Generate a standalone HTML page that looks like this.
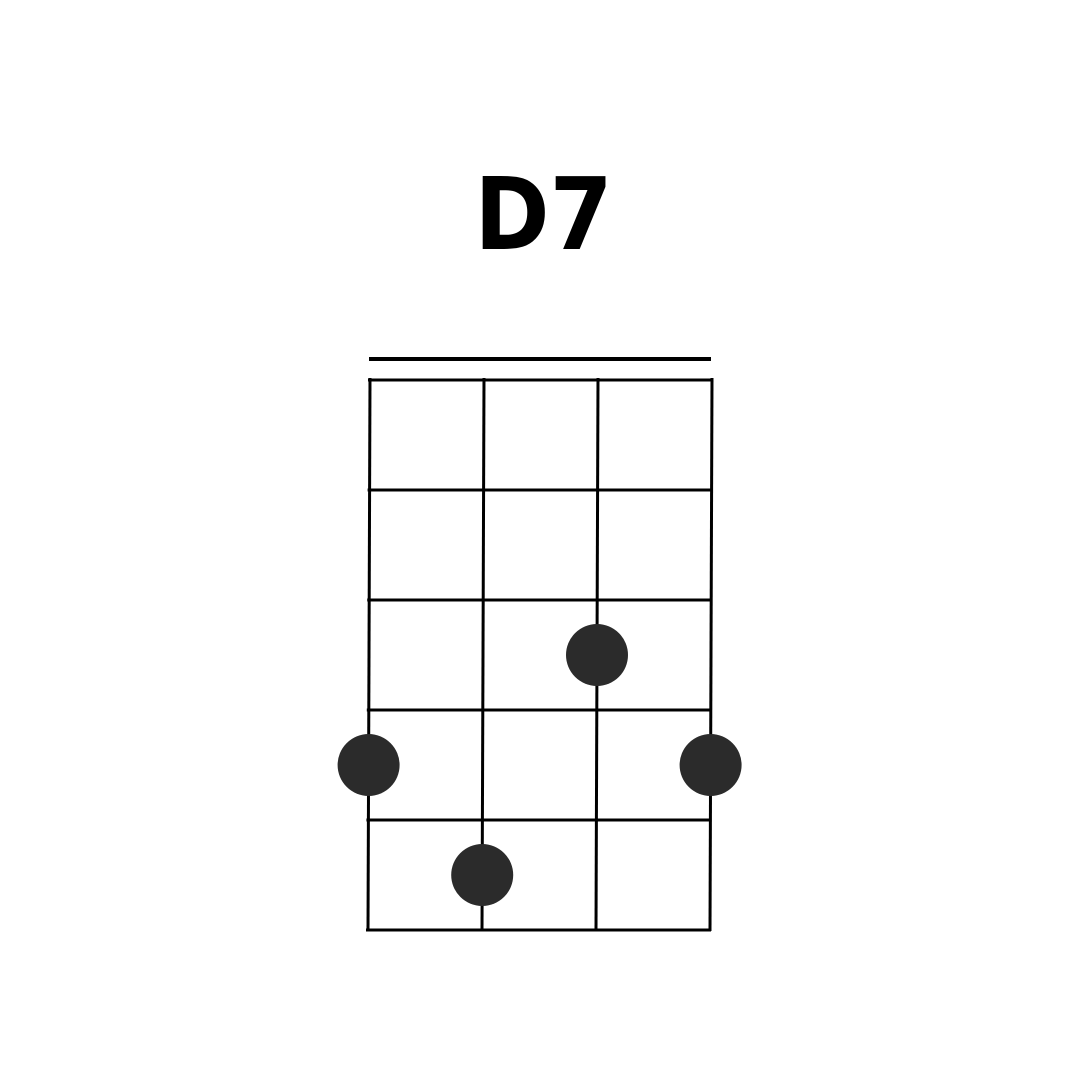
<!DOCTYPE html>
<html><head><meta charset="utf-8"><style>
html,body{margin:0;padding:0;background:#fff;width:1080px;height:1080px;overflow:hidden}
svg{display:block}
</style></head><body>
<svg id="chart" width="1080" height="1080" viewBox="0 0 1080 1080">
<rect width="1080" height="1080" fill="#fff"/>
<text x="0" y="249" transform="translate(543.5,0) scale(0.906,1)" text-anchor="middle" font-family="'DejaVu Sans',sans-serif" font-weight="bold" font-size="100" fill="#000">D7</text>
<line x1="369" y1="359" x2="711" y2="359" stroke="#000" stroke-width="4"/>
<g id="grid"></g>
<g id="dots"></g>
</svg>
<script>
const strings = [0, 1, 2, 3];
const frets = [0, 1, 2, 3, 4, 5];
const dotStrings = [2, 0, 3, 1];
const dotFrets = [3, 4, 4, 5];

const NS = 'http://www.w3.org/2000/svg';
const topY = 380, botY = 930, fretGap = 110;
function sx(s, y) {
  const t = (y - topY) / (botY - topY);
  return 370 + s * 114 - 2 * t;
}
function fy(f) { return topY + f * fretGap; }
const grid = document.getElementById('grid');
frets.forEach(f => {
  const y = fy(f);
  const l = document.createElementNS(NS, 'line');
  l.setAttribute('x1', sx(0, y) - 2); l.setAttribute('x2', sx(3, y) + 1);
  l.setAttribute('y1', y); l.setAttribute('y2', y);
  l.setAttribute('stroke', '#000'); l.setAttribute('stroke-width', '3');
  
  
  grid.appendChild(l);
});
strings.forEach(s => {
  const l = document.createElementNS(NS, 'line');
  l.setAttribute('x1', sx(s, topY)); l.setAttribute('y1', topY - 2);
  l.setAttribute('x2', sx(s, botY)); l.setAttribute('y2', botY + 1);
  l.setAttribute('stroke', '#000'); l.setAttribute('stroke-width', '3');
  
  
  grid.appendChild(l);
});
const dots = document.getElementById('dots');
dotStrings.forEach((s, i) => {
  const y = fy(dotFrets[i]) - fretGap / 2;
  const c = document.createElementNS(NS, 'circle');
  c.setAttribute('cx', sx(s, y)); c.setAttribute('cy', y);
  c.setAttribute('r', 31);
  c.setAttribute('fill', '#2b2b2b');
  
  
  dots.appendChild(c);
});
</script>
</body></html>
